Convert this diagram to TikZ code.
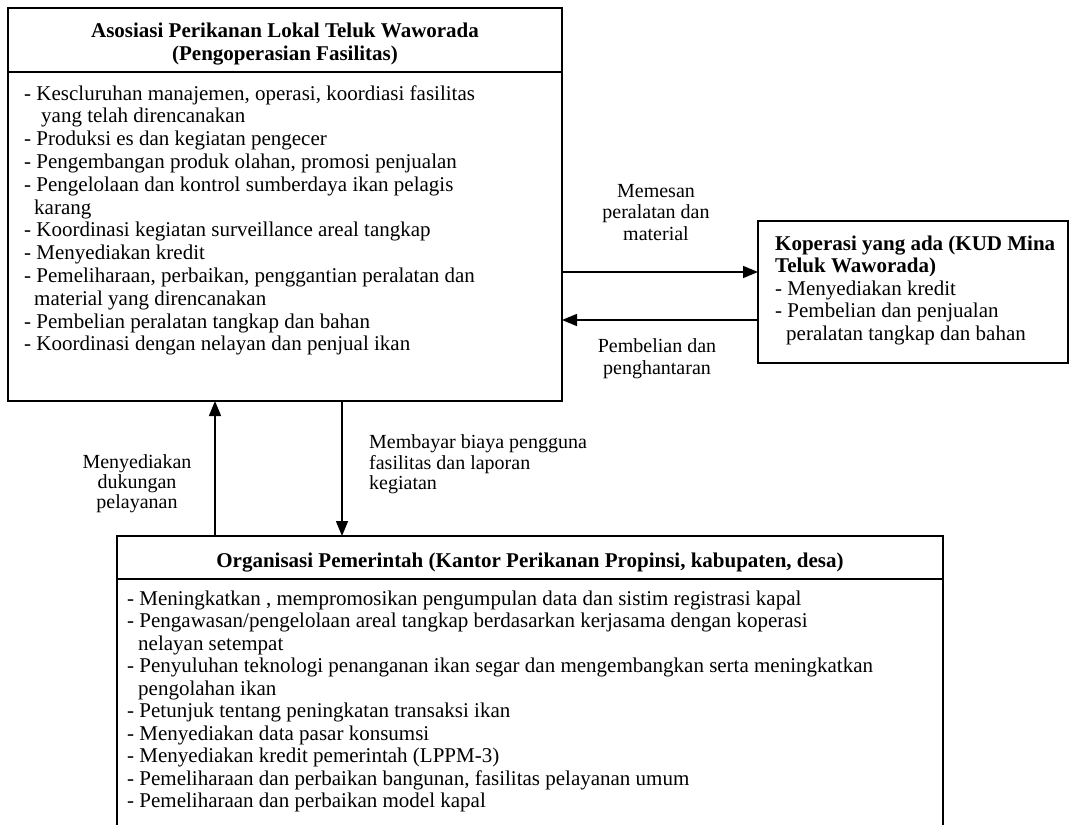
\documentclass[tikz,border=0pt]{standalone}
\usepackage{fontspec}
\setmainfont{Liberation Serif}
\usetikzlibrary{arrows.meta}
\begin{document}
\begin{tikzpicture}[x=1pt,y=-1pt,
  box/.style={draw, line width=1.3pt, inner sep=0pt, outer sep=0pt, anchor=north west},
  items/.style={inner sep=0pt, align=left, anchor=north west, font=\fontsize{21}{22.8}\selectfont},
  ttl/.style={inner sep=0pt, align=center, anchor=north, font=\bfseries\fontsize{21}{23}\selectfont},
  lbl/.style={inner sep=0pt, align=center, anchor=north, font=\fontsize{20}{21.5}\selectfont},
  flow/.style={line width=1.5pt, -{Triangle[length=15pt,width=12pt]}}]
\useasboundingbox (0,0) rectangle (1072,825);
\clip (0,0) rectangle (1072,825);

% boxes
\node[box, minimum width=554pt, minimum height=393pt] (top) at (8,8) {};
\node[box, minimum width=310pt, minimum height=142pt] (kop) at (758,221) {};
\node[box, minimum width=826pt, minimum height=310pt] (gov) at (117,536) {};
\draw[line width=1.3pt] (top.west |- 0,72) -- (top.east |- 0,72);
\draw[line width=1.3pt] (gov.west |- 0,579) -- (gov.east |- 0,579);

% top box texts
\node[ttl] (toptitle) at (285,20.9) {\strut Asosiasi Perikanan Lokal Teluk Waworada\\(Pengoperasian Fasilitas)};
\node[items] (topitems) at (24,84) {\strut - Kescluruhan manajemen, operasi, koordiasi fasilitas\\
\hspace*{17pt}yang telah direncanakan\\
- Produksi es dan kegiatan pengecer\\
- Pengembangan produk olahan, promosi penjualan\\
- Pengelolaan dan kontrol sumberdaya ikan pelagis\\
\hspace*{10pt}karang\\
- Koordinasi kegiatan surveillance areal tangkap\\
- Menyediakan kredit\\
- Pemeliharaan, perbaikan, penggantian peralatan dan\\
\hspace*{10pt}material yang direncanakan\\
- Pembelian peralatan tangkap dan bahan\\
- Koordinasi dengan nelayan dan penjual ikan};

% koperasi box text
\node[inner sep=0pt, align=left, anchor=north west, font=\fontsize{21}{22.5}\selectfont] (koptext) at (775,234.3)
{\strut\textbf{Koperasi yang ada (KUD Mina}\\
\textbf{Teluk Waworada)}\\
- Menyediakan kredit\\
- Pembelian dan penjualan\\
\hspace*{11pt}peralatan tangkap dan bahan};

% government box text
\node[ttl] (govtitle) at (530,550.9) {\strut Organisasi Pemerintah (Kantor Perikanan Propinsi, kabupaten, desa)};
\node[inner sep=0pt, align=left, anchor=north west, font=\fontsize{21}{22.5}\selectfont] (govitems) at (127,589.3)
{\strut - Meningkatkan , mempromosikan pengumpulan data dan sistim registrasi kapal\\
- Pengawasan/pengelolaan areal tangkap berdasarkan kerjasama dengan koperasi\\
\hspace*{11pt}nelayan setempat\\
- Penyuluhan teknologi penanganan ikan segar dan mengembangkan serta meningkatkan\\
\hspace*{11pt}pengolahan ikan\\
- Petunjuk tentang peningkatan transaksi ikan\\
- Menyediakan data pasar konsumsi\\
- Menyediakan kredit pemerintah (LPPM-3)\\
- Pemeliharaan dan perbaikan bangunan, fasilitas pelayanan umum\\
- Pemeliharaan dan perbaikan model kapal};

% connectors
\draw[flow] (top.east |- 0,272) -- (kop.west |- 0,272);
\draw[flow] (kop.west |- 0,320) -- (top.east |- 0,320);
\draw[flow] (gov.north -| 215,0) -- (top.south -| 215,0);
\draw[flow] (top.south -| 342,0) -- (gov.north -| 342,0);

% connector labels
\node[lbl] (lmemesan) at (656,182) {\strut Memesan\\peralatan dan\\material};
\node[lbl, font=\fontsize{20}{22}\selectfont] (lpembelian) at (657,336.6) {\strut Pembelian dan\\penghantaran};
\node[lbl, font=\fontsize{20}{20}\selectfont] (lmenyediakan) at (137,454) {\strut Menyediakan\\dukungan\\pelayanan};
\node[lbl, anchor=north west, align=left, font=\fontsize{20}{20}\selectfont] (lmembayar) at (369,434) {\strut Membayar biaya pengguna\\fasilitas dan laporan\\kegiatan};
\end{tikzpicture}
\end{document}
